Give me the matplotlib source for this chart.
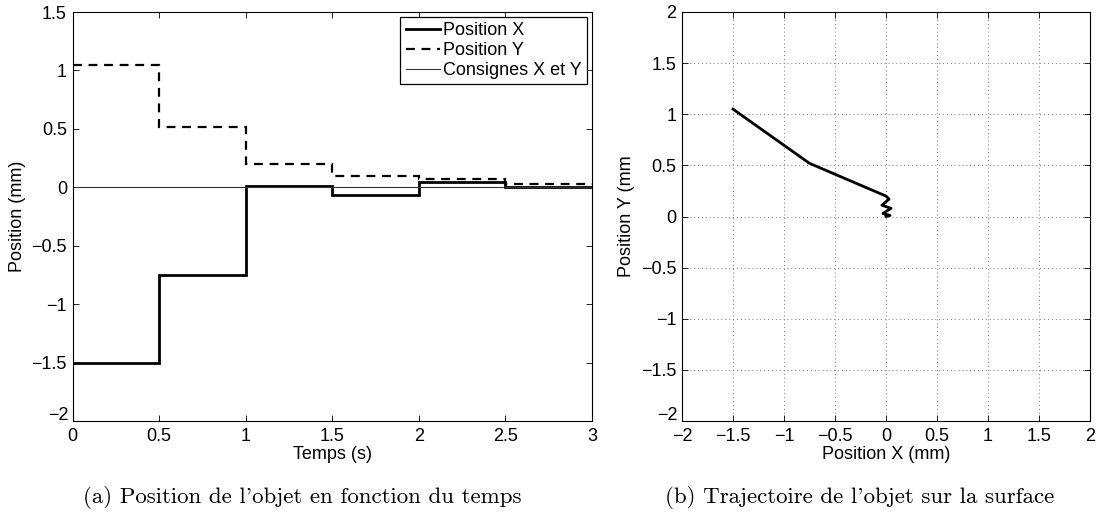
import numpy as np
import matplotlib
matplotlib.use('Agg')
import matplotlib.pyplot as plt
from matplotlib.ticker import MultipleLocator, FuncFormatter

# step values (one value per 0.5 s interval)
t_edges = [0, 0.5, 1.0, 1.5, 2.0, 2.5, 3.0]
pos_x = [-1.5, -0.75, 0.015, -0.07, 0.045, 0.0]
pos_y = [1.05, 0.52, 0.195, 0.10, 0.075, 0.03]
setpoint = [0.0, 0.0]

# trajectory (x, y) points
traj_x = [-1.5, -0.75, 0.0, 0.03, -0.04, 0.05, -0.03, 0.04, 0.0]
traj_y = [1.05, 0.52, 0.20, 0.17, 0.11, 0.08, 0.03, 0.01, 0.0]

plt.rcParams['font.family'] = ['Liberation Sans', 'DejaVu Sans']
plt.rcParams['axes.unicode_minus'] = True
caption_font = ['cmr10', 'DejaVu Serif']
FS = 13


def matlab_fmt(v, pos):
    s = '%g' % v
    return s.replace('-', '\u2212')


def matlab_fmt_y(ymin):
    # lowest label is drawn by hand, slightly lifted, like MATLAB does
    def f(v, pos):
        if abs(v - ymin) < 1e-9:
            return ''
        return matlab_fmt(v, pos)
    return f


fig = plt.figure(figsize=(10.98, 5.16), dpi=100)
W, H = 1098, 516
ax1 = fig.add_axes([72.5 / W, 1 - 421 / H, (592 - 72.5) / W, (421 - 12) / H])
ax2 = fig.add_axes([682 / W, 1 - 421 / H, (1090 - 682) / W, (421 - 12) / H])

tx = t_edges
ax1.stairs(pos_x, tx, color='black', lw=2.0, label='Position X', baseline=None)
ax1.stairs(pos_y, tx, color='black', lw=1.6, ls=(0, (4, 3)), label='Position Y', baseline=None)
ax1.plot([tx[0], tx[-1]], setpoint, color='#333333', lw=0.8, label='Consignes X et Y')
ax1.set_xlim(0, 3)
ax1.set_ylim(-2, 1.5)
ax1.xaxis.set_major_locator(MultipleLocator(0.5))
ax1.yaxis.set_major_locator(MultipleLocator(0.5))
ax1.set_xlabel('Temps (s)', fontsize=FS, labelpad=1)
ax1.set_ylabel('Position (mm)', fontsize=FS, labelpad=4)
leg = ax1.legend(loc='upper right', fontsize=FS, fancybox=False, framealpha=1,
                 edgecolor='black', borderaxespad=0.28, handlelength=1.9,
                 handletextpad=0.15, borderpad=0.3, labelspacing=0.15)
leg.get_frame().set_linewidth(0.9)

ax2.plot(traj_x, traj_y, color='black', lw=2.0)
ax2.set_xlim(-2, 2)
ax2.set_ylim(-2, 2)
ax2.xaxis.set_major_locator(MultipleLocator(0.5))
ax2.yaxis.set_major_locator(MultipleLocator(0.5))
ax2.grid(True, ls=(0, (1, 3)), color='#777777', lw=0.7)
ax2.set_xlabel('Position X (mm)', fontsize=FS, labelpad=1)
ax2.set_ylabel('Position Y (mm', fontsize=FS, labelpad=4)

for ax in (ax1, ax2):
    ymin = ax.get_ylim()[0]
    ax.tick_params(direction='in', top=True, right=True, labelsize=FS,
                   length=4, width=0.6)
    ax.tick_params(axis='x', pad=5)
    ax.tick_params(axis='y', pad=4)
    ax.xaxis.set_major_formatter(FuncFormatter(matlab_fmt))
    ax.yaxis.set_major_formatter(FuncFormatter(matlab_fmt_y(ymin)))
    ax.annotate(matlab_fmt(ymin, 0), xy=(0, ymin), xycoords=('axes fraction', 'data'),
                xytext=(-3, 4), textcoords='offset points', ha='right', va='center',
                fontsize=FS)
    for s in ax.spines.values():
        s.set_linewidth(0.8)
    ax.set_axisbelow(True)

fig.text(302 / W, 1 - 503 / H, "(a) Position de l'objet en fonction du temps",
         ha='center', va='baseline', fontsize=16.5, family=caption_font)
fig.text(860 / W, 1 - 503 / H, "(b) Trajectoire de l'objet sur la surface",
         ha='center', va='baseline', fontsize=16.5, family=caption_font)

fig.savefig('out.png', dpi=100)
